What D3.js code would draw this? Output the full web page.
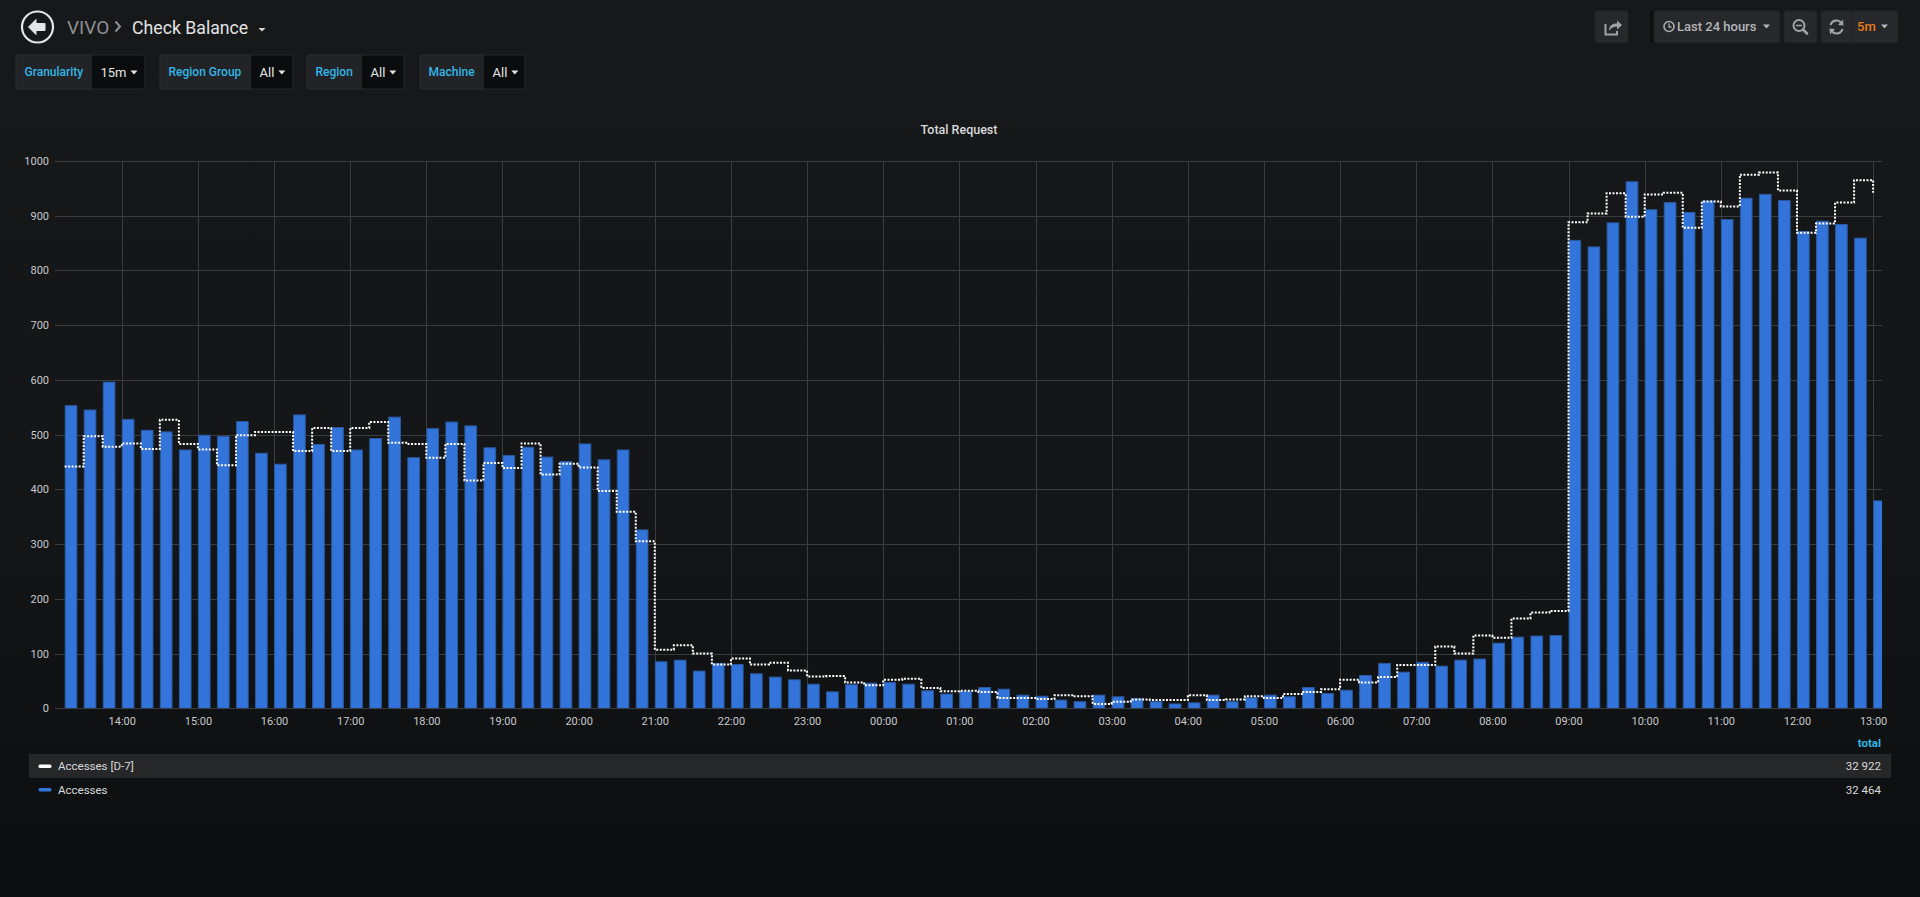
<!DOCTYPE html>
<html lang="en">
<head>
<meta charset="utf-8">
<title>Check Balance - Total Request</title>
<script src="https://d3js.org/d3.v7.min.js"></script>
<style>
  html, body { margin: 0; padding: 0; overflow: hidden; }
  body { background: linear-gradient(#17181a 0%, #141517 60%, #0c0d0f 100%); width: 1920px; height: 897px; }
  svg { display: block; font-family: Roboto, "Noto Sans", sans-serif; }
  .axis text { fill: #c7c9cc; font-size: 11px; font-family: Roboto, sans-serif; }
  .axis path, .axis line { display: none; }
  .grid line { stroke: #3b3c3f; stroke-width: 1; shape-rendering: crispEdges; }
</style>
</head>
<body>
<script>
// ---- data ----
var startTime = new Date(2019, 0, 1, 13, 15);     // first bucket
var stepMinutes = 15;
var seriesNames = ["Accesses [D-7]", "Accesses"];
var seriesColors = ["#ffffff", "#3274d9"];
var seriesTotals = ["32 922", "32 464"];

var accesses = [
  553, 545, 596, 528, 508, 505, 472, 499, 497, 524, 466, 446, 536, 482, 513, 472, 493,
  532, 458, 511, 523, 516, 476, 462, 477, 459, 451, 483, 454, 472, 326, 85, 88, 68,
  82, 80, 63, 57, 52, 44, 30, 43, 46, 47, 44, 32, 26, 31, 38, 35,
  24, 22, 15, 12, 24, 21, 18, 12, 8, 10, 24, 12, 19, 24, 21, 38, 27,
  33, 60, 82, 66, 84, 77, 88, 90, 119, 130, 132, 133,
  855, 843, 887, 962, 911, 924, 906, 927, 893, 932, 939, 928, 871, 890, 884, 859,
  379
];

var accessesD7 = [
  442, 497, 478, 484, 474, 527, 483, 473, 444, 499, 505, 505, 470, 512, 470, 512, 523,
  485, 483, 458, 483, 416, 448, 439, 484, 427, 447, 440, 397, 359, 305, 107, 115, 100,
  80, 91, 80, 83, 69, 58, 59, 47, 42, 52, 54, 37, 31, 32, 30, 19,
  19, 17, 24, 22, 8, 12, 16, 15, 15, 24, 15, 16, 22, 19, 26, 30, 35,
  52, 47, 57, 79, 79, 113, 100, 133, 129, 164, 175, 178,
  888, 904, 941, 898, 939, 942, 878, 926, 917, 975, 979, 946, 869, 886, 924, 965,
  942
];

var yTicks = [0, 100, 200, 300, 400, 500, 600, 700, 800, 900, 1000];

// ---- layout ----
var W = 1920, H = 897;
var plot = { left: 54.5, right: 1882, top: 161, bottom: 708.3 };
var rangeStart = new Date(2019, 0, 1, 13, 7);
var rangeEnd = new Date(2019, 0, 2, 13, 7);

var times = accesses.map(function(d, i) { return d3.timeMinute.offset(startTime, i * stepMinutes); });

var svg = d3.select("body").append("svg")
  .attr("width", W).attr("height", H);

var x = d3.scaleTime().domain([rangeStart, rangeEnd]).range([plot.left, plot.right]);
var y = d3.scaleLinear().domain([0, 1000]).range([plot.bottom, plot.top]);

// ---------- header ----------
var hdr = svg.append("g");
hdr.append("circle").attr("cx", 37.5).attr("cy", 27).attr("r", 15.5)
  .attr("fill", "none").attr("stroke", "#e4e5e6").attr("stroke-width", 2.2);
hdr.append("path")
  .attr("d", "M28.5,27 L36,19.5 L36,23.5 L45,23.5 L45,30.5 L36,30.5 L36,34.5 Z")
  .attr("fill", "#e4e5e6").attr("stroke", "#e4e5e6").attr("stroke-width", 1).attr("stroke-linejoin", "round");
hdr.append("text").attr("x", 67).attr("y", 33.5).text("VIVO")
  .attr("fill", "#8e9094").attr("font-size", 19);
hdr.append("path").attr("d", "M115.5,21.5 L120,26.5 L115.5,31.5")
  .attr("fill", "none").attr("stroke", "#8e9094").attr("stroke-width", 2);
hdr.append("text").attr("x", 132).attr("y", 33.5).text("Check Balance")
  .attr("fill", "#e2e3e4").attr("font-size", 17.7);
hdr.append("path").attr("d", "M258.5,28 L265.5,28 L262,31.5 Z").attr("fill", "#d8d9da");

// variables row
var vars = [
  { label: "Granularity", value: "15m", x0: 16, split: 92, x1: 145 },
  { label: "Region Group", value: "All", x0: 160, split: 251, x1: 293 },
  { label: "Region", value: "All", x0: 307, split: 362, x1: 404 },
  { label: "Machine", value: "All", x0: 420, split: 484, x1: 525 }
];
var vg = svg.append("g").selectAll("g").data(vars).enter().append("g");
vg.append("rect").attr("x", function(d) { return d.x0; }).attr("y", 55)
  .attr("width", function(d) { return d.x1 - d.x0; }).attr("height", 34).attr("rx", 2)
  .attr("fill", "#222327").attr("stroke", "#2a2c30");
vg.append("rect").attr("x", function(d) { return d.split; }).attr("y", 55.5)
  .attr("width", function(d) { return d.x1 - d.split - 0.5; }).attr("height", 33)
  .attr("fill", "#0b0c0e");
vg.append("text").attr("x", function(d) { return d.x0 + 8.5; }).attr("y", 76)
  .text(function(d) { return d.label; })
  .attr("fill", "#33b5e5").attr("font-size", 12).attr("font-weight", 500);
vg.append("text").attr("class", "vval").attr("x", function(d) { return d.split + 8.5; }).attr("y", 77)
  .text(function(d) { return d.value; })
  .attr("fill", "#e4e5e6").attr("font-size", 13);
vg.append("path").attr("d", function(d) {
    var t = d3.select(this.parentNode).select(".vval").node();
    var cx = d.split + 8.5 + t.getComputedTextLength() + 7.5;
    return "M" + (cx - 3.5) + ",70.5 L" + (cx + 3.5) + ",70.5 L" + cx + ",74.5 Z";
  }).attr("fill", "#e4e5e6");

// right side buttons
var btns = svg.append("g");
function btn(x0, x1) {
  btns.append("rect").attr("x", x0).attr("y", 11).attr("width", x1 - x0).attr("height", 32)
    .attr("rx", 2).attr("fill", "#27282b").attr("stroke", "#1f2023");
}
btn(1595, 1628);
btns.append("rect").attr("x", 1650).attr("y", 11).attr("width", 4).attr("height", 32).attr("fill", "#0e0f11");
btn(1654, 1780);
btn(1784, 1817);
btn(1821, 1898);
btns.append("line").attr("x1", 1852).attr("x2", 1852).attr("y1", 11).attr("y2", 43).attr("stroke", "#1f2023");
// share icon
btns.append("path").attr("d", "M1605.5,24 L1605.5,34.5 L1617,34.5 L1617,31")
  .attr("fill", "none").attr("stroke", "#9fa3a8").attr("stroke-width", 2);
btns.append("path").attr("d", "M1609,31 C1609,25 1613,23.5 1617,23.5 L1617,20.5 L1622,25 L1617,29.5 L1617,26.5 C1614,26.5 1611,27.5 1609,31 Z")
  .attr("fill", "#9fa3a8");
// clock icon
btns.append("circle").attr("cx", 1669).attr("cy", 26.5).attr("r", 5).attr("fill", "none")
  .attr("stroke", "#a8abb0").attr("stroke-width", 1.6);
btns.append("path").attr("d", "M1669,23.5 L1669,27 L1671.5,27").attr("fill", "none")
  .attr("stroke", "#a8abb0").attr("stroke-width", 1.3);
btns.append("text").attr("x", 1677).attr("y", 31).text("Last 24 hours")
  .attr("fill", "#b3b5b9").attr("font-size", 13).attr("font-weight", 500);
btns.append("path").attr("d", "M1763,24.5 L1770,24.5 L1766.5,28.5 Z").attr("fill", "#b3b5b9");
// zoom out icon
btns.append("circle").attr("cx", 1799).attr("cy", 25.5).attr("r", 5.5).attr("fill", "none")
  .attr("stroke", "#9fa3a8").attr("stroke-width", 2);
btns.append("line").attr("x1", 1803).attr("y1", 29.5).attr("x2", 1807).attr("y2", 33.5)
  .attr("stroke", "#9fa3a8").attr("stroke-width", 2.6).attr("stroke-linecap", "round");
btns.append("line").attr("x1", 1796).attr("y1", 25.5).attr("x2", 1802).attr("y2", 25.5)
  .attr("stroke", "#9fa3a8").attr("stroke-width", 1.6);
// refresh icon
btns.append("path").attr("d", "M1830.5,25 A6,6 0 0 1 1841.5,23.5").attr("fill", "none")
  .attr("stroke", "#9fa3a8").attr("stroke-width", 2.2);
btns.append("path").attr("d", "M1843,19.5 L1843.5,25.5 L1838,25 Z").attr("fill", "#9fa3a8");
btns.append("path").attr("d", "M1842.5,29 A6,6 0 0 1 1831.5,30.5").attr("fill", "none")
  .attr("stroke", "#9fa3a8").attr("stroke-width", 2.2);
btns.append("path").attr("d", "M1830,34.5 L1829.5,28.5 L1835,29 Z").attr("fill", "#9fa3a8");
btns.append("text").attr("x", 1857).attr("y", 31).text("5m")
  .attr("fill", "#eb7b18").attr("font-size", 13).attr("font-weight", 500);
btns.append("path").attr("d", "M1881,24.5 L1888,24.5 L1884.5,28.5 Z").attr("fill", "#b3b5b9");

// ---------- chart ----------
svg.append("text").attr("x", 959).attr("y", 133.5).attr("text-anchor", "middle")
  .text("Total Request").attr("fill", "#d8d9da").attr("font-size", 12.5).attr("font-weight", 500);

var grid = svg.append("g").attr("class", "grid");
grid.selectAll(".h").data(yTicks).enter().append("line")
  .attr("x1", plot.left).attr("x2", plot.right)
  .attr("y1", function(d) { return Math.round(y(d)) + 0.5; })
  .attr("y2", function(d) { return Math.round(y(d)) + 0.5; });
grid.selectAll(".v").data(x.ticks(d3.timeHour.every(1))).enter().append("line")
  .attr("x1", function(d) { return Math.round(x(d)) + 0.5; })
  .attr("x2", function(d) { return Math.round(x(d)) + 0.5; })
  .attr("y1", plot.top).attr("y2", plot.bottom);

svg.append("defs").append("clipPath").attr("id", "plotclip")
  .append("rect").attr("x", plot.left).attr("y", plot.top - 5)
  .attr("width", plot.right - plot.left).attr("height", plot.bottom - plot.top + 5);

var barW = x(d3.timeMinute.offset(startTime, 10)) - x(startTime);
svg.append("g").attr("clip-path", "url(#plotclip)")
  .selectAll("rect").data(accesses).enter().append("rect")
  .attr("x", function(d, i) { return x(times[i]) + 0.5; })
  .attr("y", function(d) { return y(d); })
  .attr("width", barW - 1)
  .attr("height", function(d) { return y(0) - y(d); })
  .attr("fill", seriesColors[1])
  .attr("stroke", "#2a589f").attr("stroke-width", 1);

var line = d3.line()
  .x(function(d, i) { return x(times[i]); })
  .y(function(d) { return y(d); })
  .curve(d3.curveStepAfter);
svg.append("path").datum(accessesD7)
  .attr("d", line)
  .attr("fill", "none").attr("stroke", seriesColors[0])
  .attr("stroke-width", 2).attr("stroke-dasharray", "2,1.5");

svg.append("g").attr("class", "axis")
  .attr("transform", "translate(0," + plot.bottom + ")")
  .call(d3.axisBottom(x).ticks(d3.timeHour.every(1)).tickFormat(d3.timeFormat("%H:%M")).tickSize(0).tickPadding(9));

svg.append("g").attr("class", "axis")
  .attr("transform", "translate(" + (plot.left) + ",0)")
  .call(d3.axisLeft(y).tickValues(yTicks).tickFormat(d3.format("d")).tickSize(0).tickPadding(5.5));

// ---------- legend ----------
var lg = svg.append("g");
lg.append("text").attr("x", 1881).attr("y", 747).attr("text-anchor", "end")
  .text("total").attr("fill", "#33b5e5").attr("font-size", 11.5).attr("font-weight", 700);
var rows = lg.selectAll(".row").data(seriesNames).enter().append("g")
  .attr("transform", function(d, i) { return "translate(0," + (766 + i * 23.5) + ")"; });
rows.append("rect").attr("x", 29).attr("y", -12).attr("width", 1862).attr("height", 24)
  .attr("fill", function(d, i) { return i === 0 ? "#262729" : "none"; });
rows.append("rect").attr("x", 38.5).attr("y", -1.5).attr("width", 13).attr("height", 3.5).attr("rx", 1.5)
  .attr("fill", function(d, i) { return seriesColors[i]; });
rows.append("text").attr("x", 58).attr("y", 4).text(function(d) { return d; })
  .attr("fill", "#d8d9da").attr("font-size", 11.5);
rows.append("text").attr("x", 1881).attr("y", 4).attr("text-anchor", "end")
  .text(function(d, i) { return seriesTotals[i]; })
  .attr("fill", "#d8d9da").attr("font-size", 11.5);
</script>
</body>
</html>
